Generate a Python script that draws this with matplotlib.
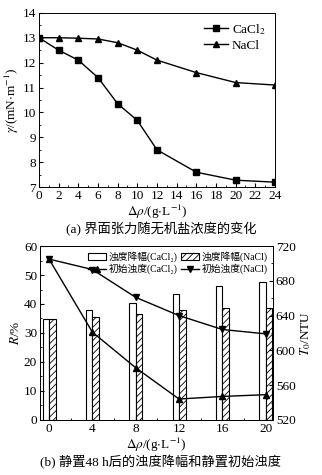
import numpy as np
import matplotlib
matplotlib.use("Agg")
import matplotlib.pyplot as plt
from matplotlib.ticker import MultipleLocator

plt.rcParams['font.family'] = ['Liberation Serif', 'Noto Sans CJK SC']
plt.rcParams['mathtext.fontset'] = 'stix'
plt.rcParams['hatch.linewidth'] = 0.6

# (a) interfacial tension vs salt concentration
conc_a = [0, 2, 4, 6, 8, 10, 12, 16, 20, 24]
gamma_cacl2 = [13.0, 12.5, 12.1, 11.4, 10.35, 9.68, 8.5, 7.6, 7.28, 7.2]
gamma_nacl = [13.0, 13.0, 12.98, 12.95, 12.8, 12.5, 12.1, 11.6, 11.2, 11.1]

# (b) turbidity reduction and initial turbidity
conc_b = ['0', '4', '8', '12', '16', '20']
r_cacl2 = [34.8, 37.8, 40.4, 43.3, 46.3, 47.6]
r_nacl = [34.8, 35.6, 36.7, 37.9, 38.7, 38.7]
t0_cacl2 = [705, 621, 580, 544, 547, 549]
t0_nacl = [705, 693, 661, 640, 624, 619]

fig = plt.figure(figsize=(3.22, 4.75), dpi=100)

# ---------- top chart ----------
ax1 = fig.add_axes([0.121, 0.606, 0.733, 0.367])
ax1.plot(conc_a, gamma_cacl2, '-s', color='black', lw=1.0, ms=4.5, label='CaCl$_2$')
ax1.plot(conc_a, gamma_nacl, '-^', color='black', lw=1.0, ms=5, label='NaCl')
ax1.set_xlim(0, 24)
ax1.set_ylim(7, 14)
ax1.xaxis.set_major_locator(MultipleLocator(2))
ax1.xaxis.set_minor_locator(MultipleLocator(1))
ax1.yaxis.set_major_locator(MultipleLocator(1))
ax1.yaxis.set_minor_locator(MultipleLocator(0.5))
ax1.tick_params(which='both', direction='in', top=False, right=False, labelsize=9.5, pad=2)
ax1.tick_params(which='major', length=3)
ax1.tick_params(which='minor', length=1.5)
ax1.set_ylabel(r'$\gamma$/(mN$\cdot$m$^{-1}$)', fontsize=9.5, labelpad=1)
ax1.set_xlabel(r'$\Delta\rho$/(g$\cdot$L$^{-1}$)', fontsize=9.5, labelpad=1)
ax1.legend(loc='upper right', frameon=False, fontsize=9.5, handlelength=1.8,
           handletextpad=0.3, borderaxespad=0.3, labelspacing=0.2)
for s in ax1.spines.values():
    s.set_linewidth(0.7)
fig.text(0.5, 0.518, '(a) 界面张力随无机盐浓度的变化', ha='center', va='center', fontsize=9.5)

# ---------- bottom chart ----------
ax2 = fig.add_axes([0.124, 0.116, 0.724, 0.366])
x = np.arange(len(conc_b))
w = 0.15
ax2.bar(x - w / 2, r_cacl2, w, color='white', edgecolor='black', lw=0.8, label='浊度降幅(CaCl₂)')
ax2.bar(x + w / 2, r_nacl, w, color='white', edgecolor='black', lw=0.8, hatch='/////',
        label='浊度降幅(NaCl)')
ax2.set_xlim(-0.21, 5.17)
ax2.set_ylim(0, 60)
ax2.set_xticks(x)
ax2.set_xticklabels(conc_b)
ax2.set_xticks(x[:-1] + 0.5, minor=True)
ax2.yaxis.set_major_locator(MultipleLocator(10))
ax2.yaxis.set_minor_locator(MultipleLocator(5))
ax2.tick_params(which='both', direction='in', top=False, labelsize=9.5, pad=2)
ax2.tick_params(which='major', length=3)
ax2.tick_params(which='minor', length=1.5)
ax2.set_ylabel('$\\mathit{R}$/%', fontsize=9.5, labelpad=1)
ax2.set_xlabel(r'$\Delta\rho$/(g$\cdot$L$^{-1}$)', fontsize=9.5, labelpad=1)

ax3 = ax2.twinx()
ax3.plot(x, t0_cacl2, '-^', color='black', lw=1.0, ms=5, label='初始浊度(CaCl₂)')
ax3.plot(x, t0_nacl, '-v', color='black', lw=1.0, ms=5, label='初始浊度(NaCl)')
ax3.set_ylim(520, 720)
ax3.yaxis.set_major_locator(MultipleLocator(40))
ax3.yaxis.set_minor_locator(MultipleLocator(20))
ax3.tick_params(which='both', direction='in', labelsize=9.5, pad=2)
ax3.tick_params(which='major', length=3)
ax3.tick_params(which='minor', length=1.5)
ax3.set_ylabel('$\\mathit{T}_0$/NTU', fontsize=9.5, labelpad=2)
for a in (ax2, ax3):
    for s in a.spines.values():
        s.set_linewidth(0.7)

h1, l1 = ax2.get_legend_handles_labels()
h2, l2 = ax3.get_legend_handles_labels()
handles = [h1[0], h2[0], h1[1], h2[1]]
labels = [l1[0], l2[0], l1[1], l2[1]]
ax3.legend(handles, labels, ncol=2, loc='upper right', frameon=False, fontsize=7,
           handlelength=1.8, handletextpad=0.3, columnspacing=0.4, borderaxespad=0.15,
           labelspacing=0.15)

fig.text(0.5, 0.028, '(b) 静置48 h后的浊度降幅和静置初始浊度', ha='center', va='center', fontsize=9.5)

fig.savefig('out.png', dpi=100)
